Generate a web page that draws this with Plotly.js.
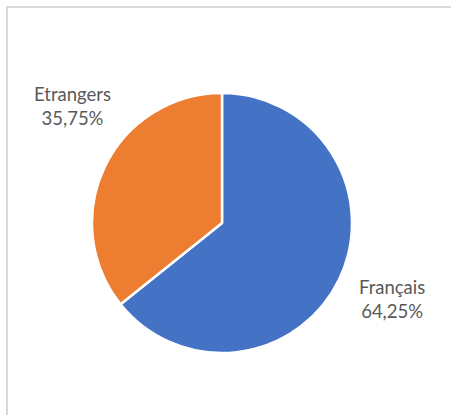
<!DOCTYPE html>
<html>
<head>
<meta charset="utf-8">
<script src="https://cdn.plot.ly/plotly-3.0.1.min.js"></script>
<style>
  html, body { margin: 0; padding: 0; background: #fff; overflow: hidden; }
  #frame { position: absolute; left: 6px; top: 6px; width: 600px; height: 600px;
           border-left: 2px solid #d9d9d9; border-top: 2px solid #d9d9d9; }
  #chart { position: absolute; left: 0; top: 0; width: 451px; height: 415px; }
</style>
</head>
<body>
<div id="frame"></div>
<div id="chart"></div>
<script>
const categories = ["Français", "Etrangers"];
const values = [64.25, 35.75];
const colors = ["#4472C4", "#ED7D31"];

const fmt = v => v.toFixed(2).replace(".", ",") + "%";
const labelPos = [
  { x: 392 / 451, y: 1 - 299 / 415 },
  { x: 72 / 451, y: 1 - 106 / 415 }
];

const annotations = categories.map((c, i) => ({
  text: c + "<br>" + fmt(values[i]),
  x: labelPos[i].x, y: labelPos[i].y,
  xref: "paper", yref: "paper",
  xanchor: "center", yanchor: "middle",
  showarrow: false,
  font: { family: "Lato, 'Open Sans', sans-serif", size: 18.5, color: "#595959" }
}));

Plotly.newPlot("chart", [{
  type: "pie",
  labels: categories,
  values: values,
  sort: false,
  direction: "clockwise",
  rotation: 0,
  textinfo: "none",
  hoverinfo: "label+percent",
  marker: { colors: colors, line: { color: "#ffffff", width: 2.5 } },
  domain: { x: [92 / 451, 352 / 451], y: [1 - 353 / 415, 1 - 93 / 415] },
  showlegend: false
}], {
  width: 451, height: 415,
  margin: { l: 0, r: 0, t: 0, b: 0 },
  paper_bgcolor: "rgba(0,0,0,0)",
  plot_bgcolor: "rgba(0,0,0,0)",
  annotations: annotations,
  showlegend: false
}, { displayModeBar: false, staticPlot: true });
</script>
</body>
</html>
